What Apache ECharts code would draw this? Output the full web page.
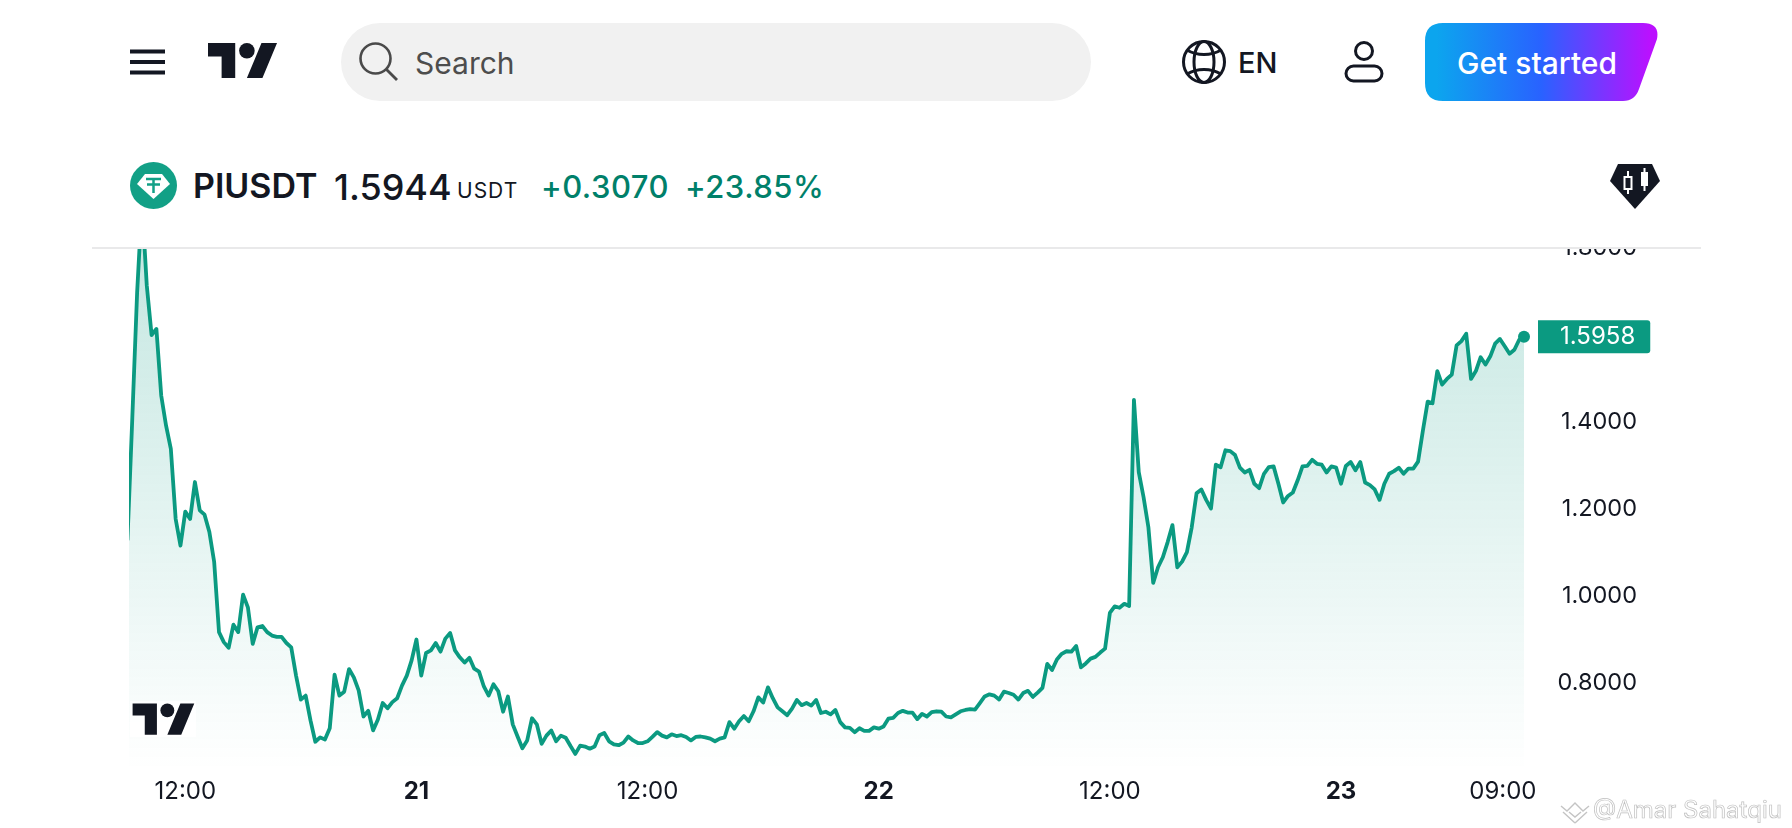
<!DOCTYPE html>
<html>

<head>
    <meta charset="utf-8">
    <title>PIUSDT</title>
    <script src="https://cdn.jsdelivr.net/npm/echarts@6/dist/echarts.min.js"></script>
    <style>
        html,
        body {
            margin: 0;
            padding: 0;
            width: 1792px;
            height: 828px;
            overflow: hidden;
            background: #fff;
            font-family: Inter, sans-serif;
            color: #131722;
        }

        .txt {
            position: absolute;
            white-space: nowrap;
            line-height: 1;
        }

        .ico {
            position: absolute;
            display: block;
        }

        #pill {
            position: absolute;
            left: 341px;
            top: 23px;
            width: 750px;
            height: 78px;
            border-radius: 39px;
            background: #f1f1f1;
        }

        #rule {
            position: absolute;
            left: 92px;
            top: 247px;
            width: 1609px;
            height: 2px;
            background: #e9e9ea;
        }

        #main {
            position: absolute;
            left: 0;
            top: 248px;
            width: 1792px;
            height: 580px;
        }
    </style>
</head>

<body>
    <div id="main"></div>

    <!-- header -->
    <svg class="ico" style="left:130px;top:49px" width="36" height="26">
        <path d="M0 2.5h35M0 13h35M0 23.5h35" stroke="#131722" stroke-width="4" />
    </svg>
    <svg class="ico" style="left:208px;top:43px" width="70" height="35" viewBox="0 4 36 18">
        <path d="M14 22H7V11H0V4h14v18zM28 22h-8l7.5-18h8L28 22z" fill="#131722" />
        <circle cx="20" cy="8" r="4" fill="#131722" />
    </svg>
    <div id="pill"></div>
    <svg class="ico" style="left:358px;top:41px" width="42" height="42">
        <circle cx="17.5" cy="17.5" r="15" fill="none" stroke="#4a4a4a" stroke-width="2.6" />
        <path d="M28 28l11 11" stroke="#4a4a4a" stroke-width="2.8" />
    </svg>
    <div class="txt" style="left:415px;top:48px;font-size:30px;color:#4d4d4d">Search</div>

    <svg class="ico" style="left:1181px;top:39px" width="46" height="46" fill="none" stroke="#131722" stroke-width="3">
        <circle cx="23" cy="23" r="20.5" />
        <ellipse cx="23" cy="23" rx="10" ry="20.5" />
        <path d="M6 11c10 6 24 6 34 0M6 35c10-6 24-6 34 0" />
    </svg>
    <div class="txt" style="left:1238px;top:48px;font-size:29px;font-weight:500">EN</div>
    <svg class="ico" style="left:1344px;top:40px" width="40" height="43" fill="none" stroke="#131722" stroke-width="3">
        <circle cx="20" cy="11" r="8.5" />
        <rect x="2" y="26" width="36" height="15" rx="7.5" />
    </svg>
    <svg class="ico" style="left:1425px;top:23px" width="233" height="78">
        <defs>
            <linearGradient id="btn" x1="0" y1="0" x2="1" y2="0">
                <stop offset="0.05" stop-color="#0ca5ee" />
                <stop offset="0.5" stop-color="#2962ff" />
                <stop offset="0.97" stop-color="#bb10ff" />
            </linearGradient>
        </defs>
        <path d="M18 0H218Q235 0 232 16L214 66Q210 78 198 78H18Q0 78 0 60V18Q0 0 18 0Z" fill="url(#btn)" />
    </svg>
    <div class="txt" style="left:1457px;top:48px;font-size:30px;font-weight:500;color:#fff">Get started</div>

    <svg class="ico" style="left:130px;top:162px" width="47" height="47">
        <circle cx="23.5" cy="23.5" r="23.5" fill="#12a086" />
        <path d="M15 12h17l8 10-16.500 15L7 22z" fill="#fff" />
        <path d="M16 17h15M23.500 17v14M17 22.500h13" stroke="#12a086" stroke-width="2.500" fill="none" />
    </svg>
    <div class="txt" style="left:193px;top:169px;font-size:34px;font-weight:600">PIUSDT</div>
    <div class="txt" style="left:334px;top:169px;font-size:36px;font-weight:500">1.5944</div>
    <div class="txt" style="left:457px;top:180px;font-size:21px;letter-spacing:1px">USDT</div>
    <div class="txt" style="left:541px;top:171px;font-size:31px;font-weight:500;color:#00806a;letter-spacing:0.5px">+0.3070</div>
    <div class="txt" style="left:685px;top:171px;font-size:31px;font-weight:500;color:#00806a;letter-spacing:0.5px">+23.85%</div>
    <svg class="ico" style="left:1610px;top:164px" width="50" height="45">
        <path d="M8 0H42L50 17L25 45L0 17Z" fill="#131722" />
        <path d="M18 7v6M18 25v5M34.500 4v5M34.500 22v5" stroke="#fff" stroke-width="2" />
        <rect x="14.500" y="13" width="7" height="12" fill="none" stroke="#fff" stroke-width="2" />
        <rect x="31" y="8" width="7" height="14" fill="#fff" />
    </svg>
    <div id="rule"></div>

    <!-- logo on the plot -->
    <svg class="ico" style="left:130px;top:701px;background:rgba(255,255,255,0.85)" width="66" height="36" viewBox="-1.500 2.600 38 20.700">
        <path d="M14 22H7V11H0V4h14v18zM28 22h-8l7.500-18h8L28 22z" fill="#131722" />
        <circle cx="20" cy="8" r="4" fill="#131722" />
    </svg>

    <!-- watermark -->
    <svg class="ico" style="left:1560px;top:798px" width="30" height="26" fill="none" stroke="#c4c4c4" stroke-width="1.400">
        <path d="M1 8l6 5 8-8 8 8 6-5M15 25L3 14M15 25l12-11M9 14l6 5 6-5" />
    </svg>
    <div class="txt" style="left:1593px;top:798px;font-size:24px;color:#fff;-webkit-text-stroke:0.7px #c0c0c0">@Amar Sahatqiu</div>

    <script type="text/javascript">
        var lastLabel = '1.5958';
        var xTickIndex = [12, 60, 108, 156, 204, 252, 288];
        var xTickLabels = ['12:00', '21', '12:00', '22', '12:00', '23', '09:00'];
        var yTickValues = [0.8, 1.0, 1.2, 1.4, 1.6, 1.8];
        // 15 minute closes, first one is 09:00 on the 20th
        var priceValues = [
            1.130, 1.410, 1.698, 1.905, 1.714, 1.600, 1.614, 1.461, 1.392, 1.338,
            1.177, 1.116, 1.194, 1.177, 1.262, 1.197, 1.187, 1.147, 1.078, 0.917,
            0.894, 0.881, 0.934, 0.917, 1.003, 0.974, 0.890, 0.928, 0.931, 0.917,
            0.909, 0.906, 0.906, 0.892, 0.882, 0.817, 0.762, 0.771, 0.714, 0.665,
            0.675, 0.670, 0.696, 0.819, 0.771, 0.780, 0.832, 0.813, 0.783, 0.723,
            0.736, 0.691, 0.716, 0.754, 0.742, 0.756, 0.765, 0.794, 0.817, 0.852,
            0.900, 0.817, 0.869, 0.875, 0.892, 0.872, 0.902, 0.915, 0.875, 0.859,
            0.847, 0.858, 0.833, 0.826, 0.792, 0.771, 0.797, 0.781, 0.734, 0.769,
            0.705, 0.677, 0.650, 0.668, 0.719, 0.705, 0.660, 0.679, 0.691, 0.666,
            0.679, 0.674, 0.655, 0.637, 0.656, 0.654, 0.649, 0.654, 0.680, 0.685,
            0.666, 0.659, 0.657, 0.663, 0.677, 0.668, 0.662, 0.662, 0.666, 0.676,
            0.687, 0.679, 0.675, 0.682, 0.678, 0.680, 0.676, 0.668, 0.676, 0.677,
            0.675, 0.672, 0.666, 0.672, 0.675, 0.710, 0.695, 0.712, 0.724, 0.712,
            0.735, 0.767, 0.755, 0.790, 0.765, 0.744, 0.735, 0.726, 0.741, 0.761,
            0.749, 0.754, 0.748, 0.761, 0.731, 0.734, 0.728, 0.738, 0.710, 0.698,
            0.697, 0.687, 0.696, 0.690, 0.690, 0.698, 0.695, 0.700, 0.718, 0.720,
            0.731, 0.736, 0.732, 0.732, 0.717, 0.729, 0.723, 0.733, 0.735, 0.734,
            0.723, 0.721, 0.728, 0.735, 0.738, 0.740, 0.739, 0.754, 0.769, 0.774,
            0.771, 0.762, 0.780, 0.777, 0.773, 0.762, 0.777, 0.782, 0.768, 0.778,
            0.789, 0.844, 0.830, 0.854, 0.867, 0.873, 0.872, 0.885, 0.836, 0.845,
            0.856, 0.860, 0.870, 0.879, 0.961, 0.976, 0.973, 0.982, 0.977, 1.451,
            1.285, 1.227, 1.158, 1.030, 1.066, 1.089, 1.124, 1.163, 1.066, 1.079,
            1.101, 1.158, 1.236, 1.245, 1.221, 1.201, 1.302, 1.296, 1.335, 1.333,
            1.324, 1.295, 1.284, 1.290, 1.258, 1.248, 1.281, 1.296, 1.298, 1.258,
            1.215, 1.230, 1.238, 1.266, 1.298, 1.299, 1.313, 1.304, 1.302, 1.284,
            1.298, 1.295, 1.258, 1.299, 1.308, 1.289, 1.308, 1.261, 1.255, 1.245,
            1.221, 1.258, 1.281, 1.287, 1.295, 1.281, 1.293, 1.293, 1.309, 1.380,
            1.447, 1.443, 1.517, 1.486, 1.499, 1.509, 1.576, 1.586, 1.603, 1.499,
            1.517, 1.549, 1.532, 1.551, 1.580, 1.591, 1.574, 1.557, 1.566, 1.589,
            1.5958
        ];

        var myChart = echarts.init(document.getElementById('main'));
        var lastIndex = priceValues.length - 1;

        var option = {
            animation: false,
            grid: { left: 131.5, width: 1392.5, top: 0, height: 522, outerBoundsMode: 'none' },
            xAxis: {
                type: 'value',
                min: 0.83,
                max: lastIndex,
                axisLine: { show: false },
                axisTick: { show: false },
                splitLine: { show: false },
                axisLabel: {
                    customValues: xTickIndex,
                    margin: 10,
                    fontFamily: 'Inter',
                    fontSize: 24,
                    color: '#131722',
                    formatter: function (value) {
                        var label = xTickLabels[xTickIndex.indexOf(value)];
                        if (label.length === 2) return '{day|' + label + '}';
                        if (value === 288) return '{end|' + label + '}';
                        return label;
                    },
                    rich: {
                        day: { fontFamily: 'Inter', fontSize: 24, fontWeight: 700, color: '#131722' },
                        end: { fontFamily: 'Inter', fontSize: 24, color: '#131722', padding: [0, 23, 0, 0] }
                    }
                }
            },
            yAxis: {
                type: 'value',
                position: 'right',
                min: 0.6,
                max: 1.8,
                axisLine: { show: false },
                axisTick: { show: false },
                splitLine: { show: false },
                axisLabel: {
                    customValues: yTickValues,
                    align: 'right',
                    margin: 113,
                    fontFamily: 'Inter',
                    fontSize: 23.5,
                    color: '#131722',
                    formatter: function (value) {
                        return value.toFixed(4);
                    }
                }
            },
            series: [{
                type: 'line',
                data: priceValues.map(function (v, i) { return [i, v]; }),
                showSymbol: false,
                clip: true,
                lineStyle: { color: '#0b9a81', width: 3.8, join: 'round', cap: 'round' },
                areaStyle: {
                    color: new echarts.graphic.LinearGradient(0, 0, 0, 1, [
                        { offset: 0, color: 'rgba(8,153,129,0.36)' },
                        { offset: 1, color: 'rgba(8,153,129,0)' }
                    ])
                },
                endLabel: {
                    show: true,
                    formatter: lastLabel,
                    distance: 14,
                    fontFamily: 'Inter',
                    fontSize: 24,
                    lineHeight: 33,
                    color: '#fff',
                    backgroundColor: '#0b9a81',
                    borderRadius: [0, 3, 3, 0],
                    padding: [0, 15, 0, 22]
                },
                markPoint: {
                    symbol: 'circle',
                    symbolSize: 12,
                    itemStyle: { color: '#0b9a81' },
                    label: { show: false },
                    data: [{ coord: [lastIndex, priceValues[lastIndex]] }]
                }
            }]
        };

        myChart.setOption(option);
    </script>
</body>

</html>
